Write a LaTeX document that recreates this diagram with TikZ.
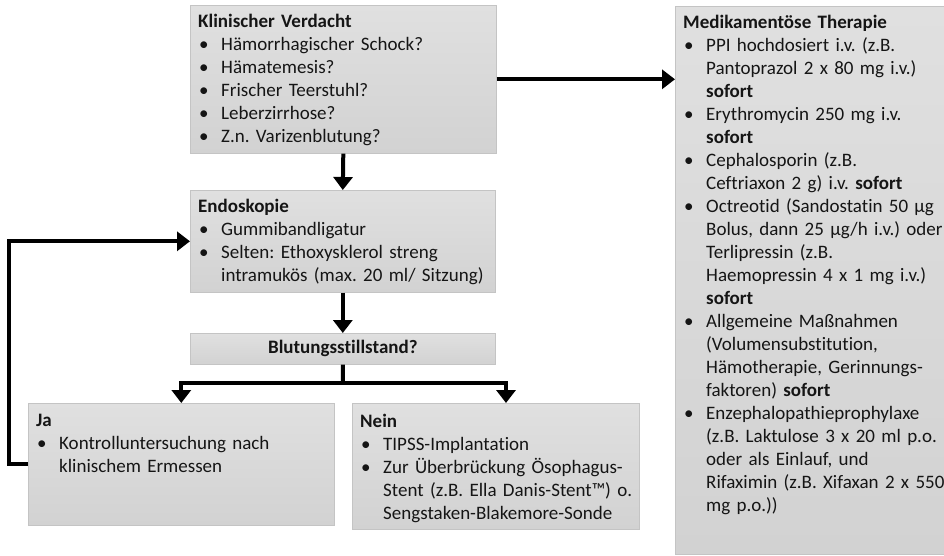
\documentclass[tikz,border=0pt]{standalone}
\usepackage{fontspec}
\setmainfont{Carlito}[Ligatures=CommonOff]
\frenchspacing
\usetikzlibrary{arrows.meta,calc}

\definecolor{boxtop}{HTML}{E0E0E0}
\definecolor{boxbot}{HTML}{D2D2D2}
\definecolor{boxedge}{HTML}{C4C4C4}
\definecolor{textcol}{HTML}{151515}

% bullet item with hanging indent; optional argument is the indent
\newcommand\bitem[1][23pt]{\hangindent=#1\hangafter=1\noindent\makebox[#1][l]{\hspace{1pt}\textbullet}}

\tikzset{
  box/.style={draw=boxedge, line width=0.6pt, top color=boxtop, bottom color=boxbot,
              anchor=north west, inner sep=0pt},
  txt/.style={anchor=north west, inner sep=0pt, text width=400pt, align=left,
              font=\fontsize{19}{23}\selectfont, text=textcol},
  link/.style={line width=4pt, draw=black},
  arr/.style={link, -{Triangle[length=13pt,width=19pt]}},
}

\begin{document}
\begin{tikzpicture}[x=1pt,y=-1pt]
\useasboundingbox (0,0) rectangle (944,555);

% boxes
\node[box, minimum width=306pt, minimum height=148pt] (kv)   at (190,5)   {};
\node[box, minimum width=305pt, minimum height=102pt] (endo) at (190,190) {};
\node[box, minimum width=305pt, minimum height=31pt]  (blut) at (190,333) {};
\node[box, minimum width=306pt, minimum height=122pt] (ja)   at (28,403)  {};
\node[box, minimum width=287pt, minimum height=126pt] (nein) at (352,403) {};
\node[box, minimum width=280pt, minimum height=548pt] (med)  at (675,6)   {};

% texts
\node[txt] (kvtext) at (198,14) {%
\textbf{Klinischer Verdacht}\par
\bitem Hämorrhagischer Schock?\par
\bitem Hämatemesis?\par
\bitem Frischer Teerstuhl?\par
\bitem Leberzirrhose?\par
\bitem Z.n. Varizenblutung?\par};

\node[txt] (endotext) at (198,199) {%
\textbf{Endoskopie}\par
\bitem Gummibandligatur\par
\bitem Selten: Ethoxysklerol streng\newline intramukös (max. 20 ml/ Sitzung)\par};

\node[font=\fontsize{19}{23}\selectfont\bfseries, text=textcol, inner sep=0pt]
  (bluttext) at (blut.center) {Blutungsstillstand?};

\node[txt] (jatext) at (36,414) {%
\textbf{Ja}\par
\bitem Kontrolluntersuchung nach\newline klinischem Ermessen\par};

\node[txt] (neintext) at (360,414) {%
\textbf{Nein}\par
\bitem TIPSS-Implantation\par
\bitem Zur Überbrückung Ösophagus-\newline Stent (z.B. Ella Danis-Stent™) o.\newline Sengstaken-Blakemore-Sonde\par};

\node[txt] (medtext) at (683,15) {%
\textbf{Medikamentöse Therapie}\par
\bitem PPI hochdosiert i.v. (z.B.\newline Pantoprazol 2 x 80 mg i.v.)\newline \textbf{sofort}\par
\bitem Erythromycin 250 mg i.v.\newline \textbf{sofort}\par
\bitem Cephalosporin (z.B.\newline Ceftriaxon 2 g) i.v. \textbf{sofort}\par
\bitem Octreotid (Sandostatin 50 µg\newline Bolus, dann 25 µg/h i.v.) oder\newline Terlipressin (z.B.\newline Haemopressin 4 x 1 mg i.v.)\newline \textbf{sofort}\par
\bitem Allgemeine Maßnahmen\newline (Volumensubstitution,\newline Hämotherapie, Gerinnungs-\newline faktoren) \textbf{sofort}\par
\bitem Enzephalopathieprophylaxe\newline (z.B. Laktulose 3 x 20 ml p.o.\newline oder als Einlauf, und\newline Rifaximin (z.B. Xifaxan 2 x 550\newline mg p.o.))\par};

% connectors
\coordinate (split) at (343,383);
\coordinate (neintop) at (506,403);
\coordinate (loopx) at (9,0);

\draw[arr] (kv.east) -- (kv.east -| med.west);
\draw[arr] (kv.south) -- (endo.north);
\draw[arr] (endo.south) -- (blut.north);
\draw[link] (blut.south) -- (split);
\draw[arr] (split) -| (ja.north);
\draw[arr] (split) -| (neintop);
\draw[arr] (ja.west) -- (ja.west -| loopx) |- (endo.west);
\end{tikzpicture}
\end{document}
